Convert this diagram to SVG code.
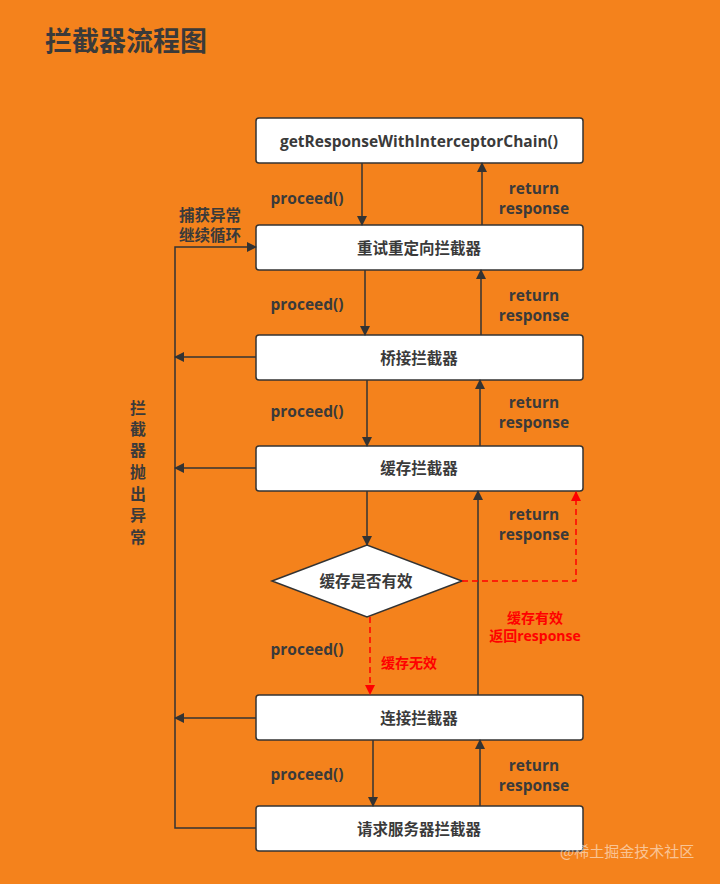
<svg xmlns="http://www.w3.org/2000/svg" width="720" height="884" viewBox="0 0 720 884">
<defs>
<style>
.bx{fill:#fff;stroke:#333;stroke-width:1.5}
.t{font-family:"Open Sans","Noto Sans CJK SC",sans-serif;font-weight:bold;fill:#3a3a3a;font-size:15.5px}
.c{text-anchor:middle;dominant-baseline:central}
.ln{stroke:#333;stroke-width:1.5;fill:none}
.rd{stroke:#ff0000;stroke-width:1.5;fill:none;stroke-dasharray:6 4}
.red{fill:#ff0000;font-size:14px}
.v{font-size:16px}
</style>
<marker id="ah" markerWidth="10" markerHeight="10" refX="9" refY="5" orient="auto" markerUnits="userSpaceOnUse"><path d="M0,0 L10,5 L0,10 Z" fill="#333"/></marker>
<marker id="ahr" markerWidth="10" markerHeight="10" refX="9" refY="5" orient="auto" markerUnits="userSpaceOnUse"><path d="M0,0 L10,5 L0,10 Z" fill="#ff0000"/></marker>
</defs>
<rect width="720" height="884" fill="#f4821c"/>
<text class="t" x="45" y="51" style="font-size:27px">拦截器流程图</text>

<g id="n1"><rect class="bx" x="256" y="118" width="327" height="45" rx="3"/><text class="t c" x="419" y="141">getResponseWithInterceptorChain()</text></g>
<g id="n2"><rect class="bx" x="256" y="225" width="327" height="45" rx="3"/><text class="t c" x="419" y="248">重试重定向拦截器</text></g>
<g id="n3"><rect class="bx" x="256" y="335" width="327" height="45" rx="3"/><text class="t c" x="419" y="358">桥接拦截器</text></g>
<g id="n4"><rect class="bx" x="256" y="446" width="327" height="45" rx="3"/><text class="t c" x="419" y="468">缓存拦截器</text></g>
<g id="n5"><path class="bx" d="M272,581 L367,545 L462,581 L367,617 Z"/><text class="t c" x="366" y="581">缓存是否有效</text></g>
<g id="n6"><rect class="bx" x="256" y="695" width="327" height="45" rx="3"/><text class="t c" x="419" y="718">连接拦截器</text></g>
<g id="n7"><rect class="bx" x="256" y="806" width="327" height="45" rx="3"/><text class="t c" x="419" y="829">请求服务器拦截器</text></g>

<g id="connectors">
<line class="ln" x1="362" y1="163" x2="362" y2="225" marker-end="url(#ah)"/>
<line class="ln" x1="482" y1="225" x2="482" y2="163" marker-end="url(#ah)"/>
<line class="ln" x1="365" y1="270" x2="365" y2="335" marker-end="url(#ah)"/>
<line class="ln" x1="481" y1="335" x2="481" y2="270" marker-end="url(#ah)"/>
<line class="ln" x1="367" y1="380" x2="367" y2="446" marker-end="url(#ah)"/>
<line class="ln" x1="480" y1="446" x2="480" y2="380" marker-end="url(#ah)"/>
<line class="ln" x1="367" y1="491" x2="367" y2="545" marker-end="url(#ah)"/>
<line class="ln" x1="478" y1="695" x2="478" y2="491" marker-end="url(#ah)"/>
<line class="ln" x1="373" y1="740" x2="373" y2="806" marker-end="url(#ah)"/>
<line class="ln" x1="480" y1="806" x2="480" y2="740" marker-end="url(#ah)"/>
<path class="rd" d="M462,581 L576,581 L576,492" marker-end="url(#ahr)"/>
<line class="rd" x1="370" y1="617" x2="370" y2="694" marker-end="url(#ahr)"/>
<path class="ln" d="M256,828 L175,828 L175,247 L256,247" marker-end="url(#ah)"/>
<line class="ln" x1="256" y1="357" x2="175" y2="357" marker-end="url(#ah)"/>
<line class="ln" x1="256" y1="468" x2="175" y2="468" marker-end="url(#ah)"/>
<line class="ln" x1="256" y1="718" x2="175" y2="718" marker-end="url(#ah)"/>
</g>

<g id="labels">
<text class="t c" x="307" y="198">proceed()</text>
<text class="t c" x="307" y="304">proceed()</text>
<text class="t c" x="307" y="411">proceed()</text>
<text class="t c" x="307" y="649">proceed()</text>
<text class="t c" x="307" y="774">proceed()</text>
<text class="t c" x="534" y="188">return</text><text class="t c" x="534" y="208">response</text>
<text class="t c" x="534" y="295">return</text><text class="t c" x="534" y="315">response</text>
<text class="t c" x="534" y="402">return</text><text class="t c" x="534" y="422">response</text>
<text class="t c" x="534" y="514">return</text><text class="t c" x="534" y="534">response</text>
<text class="t c" x="534" y="765">return</text><text class="t c" x="534" y="785">response</text>
<text class="t c" x="210" y="215">捕获异常</text>
<text class="t c" x="210" y="235">继续循环</text>
<text class="t c red" x="535" y="617">缓存有效</text>
<text class="t c red" x="535" y="635">返回response</text>
<text class="t c red" x="409" y="662">缓存无效</text>
<text class="t c v" x="138" y="408">拦</text>
<text class="t c v" x="138" y="429">截</text>
<text class="t c v" x="138" y="450">器</text>
<text class="t c v" x="138" y="472">抛</text>
<text class="t c v" x="138" y="494">出</text>
<text class="t c v" x="138" y="515">异</text>
<text class="t c v" x="138" y="537">常</text>
<text x="560" y="857" style="font-family:'Noto Sans CJK SC',sans-serif;font-size:15px;fill:#fff;fill-opacity:0.55">@稀土掘金技术社区</text>
</g>
</svg>
